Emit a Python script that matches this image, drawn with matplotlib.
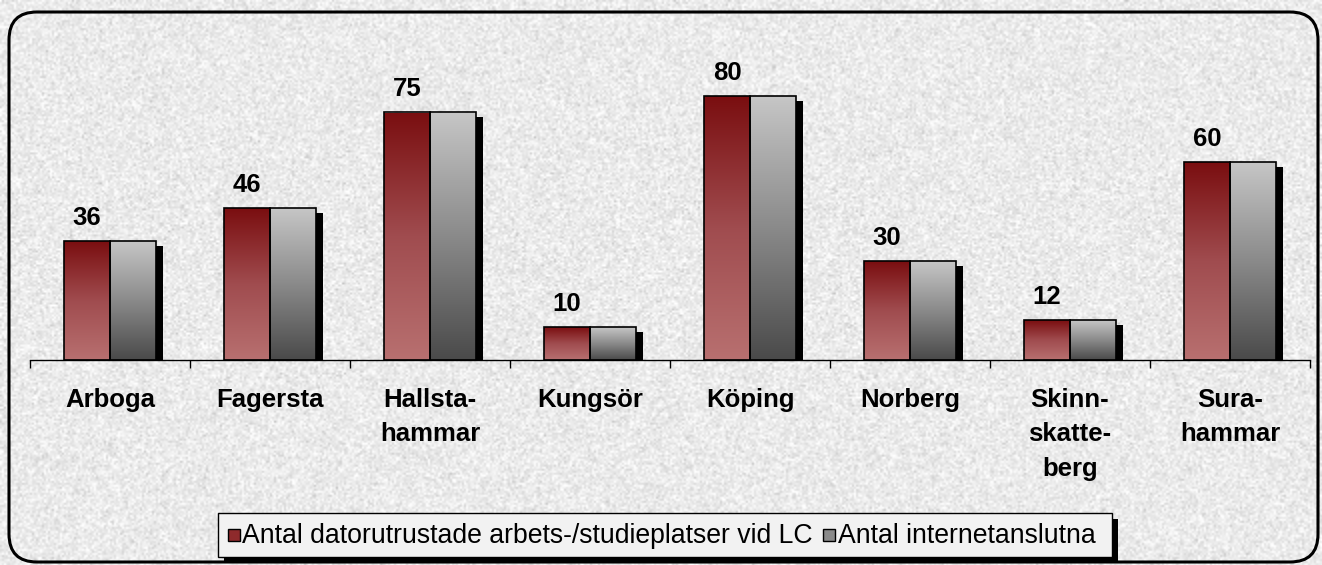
import numpy as np
import matplotlib
matplotlib.use("Agg")
import matplotlib.pyplot as plt
from matplotlib.patches import FancyBboxPatch, Rectangle
import matplotlib.transforms as mtransforms
from matplotlib.colors import LinearSegmentedColormap

categories = ["Arboga", "Fagersta", "Hallsta-\nhammar", "Kungsör", "Köping",
              "Norberg", "Skinn-\nskatte-\nberg", "Sura-\nhammar"]
workplaces = [36, 46, 75, 10, 80, 30, 12, 60]
internet = [36, 46, 75, 10, 80, 30, 12, 60]
series_names = ["Antal datorutrustade arbets-/studieplatser vid LC", "Antal internetanslutna"]

W, H = 1322, 565
fig = plt.figure(figsize=(W / 100, H / 100), dpi=100)
fig.patch.set_facecolor("white")

# textured background (decorative)
bg = fig.add_axes([0, 0, 1, 1], zorder=-10)
rng = np.random.default_rng(3)
noise = rng.normal(0, 1, (H // 2, W // 2))
tex = np.clip(0.92 + 0.045 * noise, 0, 1)
bg.imshow(tex, cmap="gray", vmin=0, vmax=1, extent=[0, W, 0, H], aspect="auto",
          interpolation="bilinear")
bg.set_xlim(0, W)
bg.set_ylim(0, H)
bg.axis("off")
border = FancyBboxPatch((9, 3), 1309, 550, boxstyle="round,pad=0,rounding_size=28",
                        fill=False, edgecolor="black", linewidth=2.2, zorder=5)
bg.add_patch(border)

# plot area in pixel coordinates
left, right, bottom, top = 30, 1310, H - 360, H - 40
ax = fig.add_axes([left / W, bottom / H, (right - left) / W, (top - bottom) / H])
ax.set_facecolor("none")
ymax = (top - bottom) / 3.3
n = len(categories)
x = np.arange(n) + 0.5
bw = 46 / 160

grad = np.linspace(0, 1, 256).reshape(-1, 1)
red_cmap = LinearSegmentedColormap.from_list("r", ["#b87070", "#a04c4f", "#7a0e10"])
gray_cmap = LinearSegmentedColormap.from_list("g", ["#4a4a4a", "#8a8a8a", "#c6c6c6"])

shadow_tr = ax.transData + mtransforms.ScaledTranslation(7 / 100, -5 / 100, fig.dpi_scale_trans)

for vals, offs, cmap in [(workplaces, -bw / 2, red_cmap), (internet, bw / 2, gray_cmap)]:
    xs = x + offs
    for xi, v in zip(xs, vals):
        ax.add_patch(Rectangle((xi - bw / 2, 0), bw, v, facecolor="black",
                               edgecolor="none", transform=shadow_tr, zorder=1))
    bars = ax.bar(xs, vals, width=bw, facecolor="none", edgecolor="black",
                  linewidth=1.2, zorder=3)
    for b in bars:
        x0, y0 = b.get_x(), b.get_y()
        w, h = b.get_width(), b.get_height()
        im = ax.imshow(grad, cmap=cmap, extent=[x0, x0 + w, y0, y0 + h],
                       origin="lower", aspect="auto", zorder=2, interpolation="bilinear")
        im.set_clip_path(Rectangle((x0, y0), w, h, transform=ax.transData))

ax.set_xlim(0, n)
ax.set_ylim(0, ymax)

for xi, v in zip(x - bw / 2, workplaces):
    ax.annotate(str(v), (xi, v), xytext=(0, 8), textcoords="offset points",
                ha="center", va="bottom", fontsize=18.5, fontweight="bold",
                family="Liberation Sans")

for s in ["top", "right", "left"]:
    ax.spines[s].set_visible(False)
ax.spines["bottom"].set_linewidth(1)
ax.set_yticks([])
ax.set_xticks(np.arange(n + 1))
ax.set_xticklabels([])
ax.tick_params(axis="x", length=6, width=1, direction="out")
ax.set_xticks(x, minor=True)
ax.set_xticklabels(categories, minor=True, fontsize=18.5, fontweight="bold",
                   family="Liberation Sans", linespacing=1.56, va="top")
ax.tick_params(axis="x", which="minor", length=0, pad=20)

# legend
lx0, ly0, lw, lh = 218, H - 557, 894, 44
bg.add_patch(Rectangle((lx0 + 6, ly0 - 6), lw, lh, facecolor="black", edgecolor="none", zorder=6))
bg.add_patch(Rectangle((lx0, ly0), lw, lh, facecolor="#f2f2f2", edgecolor="black",
                       linewidth=1, zorder=7))
bg.add_patch(Rectangle((lx0 + 10, ly0 + 16), 12, 12, facecolor="#8e2a2c", edgecolor="black",
                       linewidth=1, zorder=8))
bg.text(lx0 + 24, ly0 + 21, series_names[0], fontsize=19.2, va="center", ha="left",
        family="Liberation Sans", zorder=8)
bg.add_patch(Rectangle((lx0 + 605, ly0 + 16), 12, 12, facecolor="#8a8a8a", edgecolor="black",
                       linewidth=1, zorder=8))
bg.text(lx0 + 620, ly0 + 21, series_names[1], fontsize=19.2, va="center", ha="left",
        family="Liberation Sans", zorder=8)

fig.savefig("out.png", dpi=100)
